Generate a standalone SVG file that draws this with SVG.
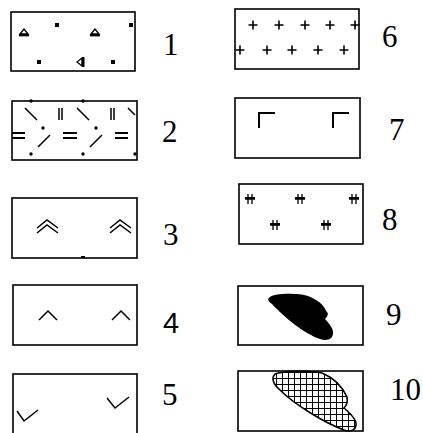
<svg xmlns="http://www.w3.org/2000/svg" width="423" height="433" viewBox="0 0 423 433">
<defs>
<style>
.box{fill:#fff;stroke:#000;stroke-width:1.6}
.ln{stroke:#000;stroke-width:1.5;fill:none;stroke-linecap:butt}
.th{stroke:#000;stroke-width:2;fill:none}
.lbl{font-family:"Liberation Serif","Times New Roman",serif;font-size:31px;fill:#000}
.sans{font-family:"Liberation Sans",Arial,sans-serif;font-size:29px;fill:#000}
.dot{fill:#000}
</style>
<pattern id="grid" width="6" height="6" patternUnits="userSpaceOnUse" x="0" y="0">
<rect width="6" height="6" fill="#fff"/>
<path d="M0 0.5H6M0.5 0V6" stroke="#000" stroke-width="1"/>
</pattern>
<g id="tri">
<path d="M-4 1 L0 -4 L4 1 Z" fill="#fff" stroke="#000" stroke-width="1.4"/>
<rect x="-5" y="1" width="10" height="2.4" fill="#000"/>
</g>
<rect id="sq" x="-2" y="-2" width="4" height="4" fill="#000"/>
<path id="plus" d="M-4.5 0H4.5M0 -4.5V4.5" stroke="#000" stroke-width="1.6"/>
<g id="hash">
<path d="M-2 -5V5M2 -5V5M-5 0H5M-5 -1.3H5" stroke="#000" stroke-width="1.3"/>
</g>
</defs>

<g id="node1">
<rect class="box" x="11" y="12" width="124" height="59"/>
<use href="#tri" x="24" y="33"/>
<use href="#tri" x="95" y="33"/>
<use href="#sq" x="57" y="25"/>
<use href="#sq" x="131" y="25"/>
<use href="#sq" x="39" y="62"/>
<use href="#sq" x="113" y="62"/>
<path d="M82 58 L77 62 L82 66 Z" fill="#fff" stroke="#000" stroke-width="1.3"/>
<rect x="82" y="57" width="2.5" height="10" fill="#000"/>
<text class="lbl" x="163" y="55">1</text>
</g>

<g id="node2">
<rect class="box" x="12" y="101" width="125" height="59"/>
<g class="dot">
<circle cx="31" cy="101" r="1.7"/><circle cx="83" cy="101" r="1.7"/>
<circle cx="31" cy="154" r="1.7"/><circle cx="83" cy="154" r="1.7"/><circle cx="135" cy="154" r="1.7"/>
<circle cx="43" cy="128" r="1.7"/><circle cx="96" cy="128" r="1.7"/>
</g>
<path class="ln" d="M25 108L37 120M77 108L89 120M128 108L135 115"/>
<path class="ln" d="M59 108V120M62 108V120M111 108V120M114 108V120"/>
<path class="th" d="M12 133H25M12 138H25M63 133H77M63 138H77M115 133H128M115 138H128" stroke-width="1.7"/>
<path class="ln" d="M38 147L50 135M90 147L102 135"/>
<text class="lbl" x="162" y="142">2</text>
</g>

<g id="node3">
<rect class="box" x="12" y="198" width="125" height="60"/>
<path class="ln" d="M37 228L47 220L58 228M37 233L47 225L58 233"/>
<path class="ln" d="M110 228L120 220L131 228M110 233L120 225L131 233"/>
<rect x="81" y="256" width="4" height="2" fill="#000"/>
<text class="lbl" x="163" y="245">3</text>
</g>

<g id="node4">
<rect class="box" x="13" y="285" width="124" height="60"/>
<path class="ln" d="M39 320L48 311L57 320M112 320L121 311L130 320"/>
<text class="sans" x="163" y="333">4</text>
</g>

<g id="node5">
<rect class="box" x="13" y="374" width="124" height="60"/>
<path class="ln" d="M17 411L24 421L38 410M107 398L115 408L129 397"/>
<text class="lbl" x="162" y="405">5</text>
</g>

<g id="node6">
<rect class="box" x="235" y="9" width="124" height="60"/>
<use href="#plus" x="253" y="25"/><use href="#plus" x="279" y="25"/><use href="#plus" x="305" y="25"/><use href="#plus" x="330" y="25"/><use href="#plus" x="355" y="25"/>
<use href="#plus" x="240" y="50"/><use href="#plus" x="267" y="50"/><use href="#plus" x="292" y="50"/><use href="#plus" x="318" y="50"/><use href="#plus" x="344" y="50"/>
<text class="lbl" x="382" y="47">6</text>
</g>

<g id="node7">
<rect class="box" x="235" y="98" width="125" height="60"/>
<path class="th" d="M259 128V113H275M333 128V113H349" stroke-width="2.2"/>
<text class="lbl" x="389" y="140">7</text>
</g>

<g id="node8">
<rect class="box" x="239" y="184" width="124" height="60"/>
<use href="#hash" x="250" y="199"/><use href="#hash" x="300" y="199"/><use href="#hash" x="354" y="199"/>
<use href="#hash" x="275" y="225"/><use href="#hash" x="326" y="225"/>
<text class="lbl" x="382" y="230">8</text>
</g>

<g id="node9">
<rect class="box" x="238" y="286" width="125" height="59"/>
<path d="M270 297 C275 293 298 293 308 296 C318 300 324 305 326 311 C329 313 328 316 325 319 C330 324 334 330 333 334 C332 340 326 341 320 339 C305 334 285 318 272 304 C268 301 267 299 270 297 Z" fill="#000"/>
<text class="lbl" x="386" y="325">9</text>
</g>

<g id="node10">
<rect class="box" x="238" y="371" width="125" height="60"/>
<path d="M275 374 C282 371 310 370 322 373 C334 378 342 386 347 397 C348 402 347 405 344 408 C351 414 357 420 356 425 C355 431 350 432 344 430 C325 423 295 405 280 390 C273 384 271 378 275 374 Z" fill="url(#grid)" stroke="#000" stroke-width="1.6"/>
<text class="lbl" x="390" y="400">10</text>
</g>

<g id="connectors"></g>
</svg>
